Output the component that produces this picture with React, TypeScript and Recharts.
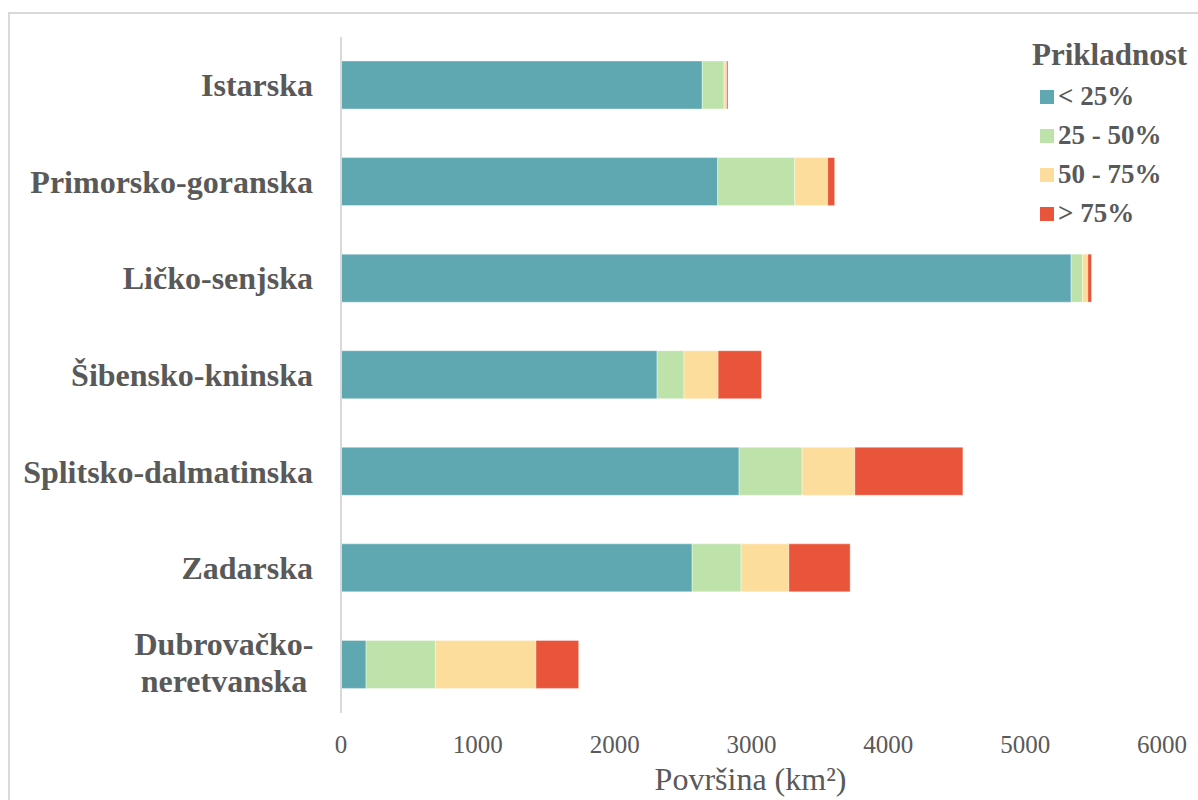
import React from 'react';
import { BarChart, Bar, XAxis, YAxis, Legend } from 'recharts';

const categories = [
  'Istarska',
  'Primorsko-goranska',
  'Ličko-senjska',
  'Šibensko-kninska',
  'Splitsko-dalmatinska',
  'Zadarska',
  'Dubrovačko-neretvanska',
];
const seriesNames = ['< 25%', '25 - 50%', '50 - 75%', '> 75%'];
const seriesColors = ['#5FA8B1', '#BEE3AA', '#FDDD9B', '#E9553A'];
const below25 = [2640, 2753, 5336, 2310, 2909, 2566, 183];
const from25to50 = [160, 563, 83, 197, 461, 358, 507];
const from50to75 = [18, 241, 39, 249, 385, 349, 735];
const above75 = [10, 51, 27, 317, 790, 448, 312];
const xTicks = [0, 1000, 2000, 3000, 4000, 5000, 6000];
const legendTitle = 'Prikladnost';
const xTitle = 'Površina (km²)';

const seriesValues = [below25, from25to50, from50to75, above75];
const data = categories.map((c, i) => ({
  name: c,
  s0: below25[i],
  s1: from25to50[i],
  s2: from50to75[i],
  s3: above75[i],
}));

const FONT = '"Liberation Serif", "Times New Roman", serif';
const TXT = '#595959';

const YTick = (props: any) => {
  const { x, y, payload } = props;
  const label: string = payload.value;
  if (label === 'Dubrovačko-neretvanska') {
    return (
      <g>
        <text x={x - 117} y={y - 10} textAnchor="middle" fontFamily={FONT} fontWeight="bold" fontSize={32} fill={TXT}>
          Dubrovačko-
        </text>
        <text x={x - 117} y={y + 27} textAnchor="middle" fontFamily={FONT} fontWeight="bold" fontSize={32} fill={TXT}>
          neretvanska
        </text>
      </g>
    );
  }
  return (
    <text x={x - 28} y={y + 11} textAnchor="end" fontFamily={FONT} fontWeight="bold" fontSize={32} fill={TXT}>
      {label}
    </text>
  );
};

const XTick = (props: any) => {
  const { x, y, payload } = props;
  return (
    <text x={x} y={y + 40} textAnchor="middle" fontFamily={FONT} fontSize={25} fill={TXT}>
      {payload.value}
    </text>
  );
};

const XTitle = (props: any) => {
  const vb = props.viewBox || {};
  const cx = vb.x + vb.width / 2;
  return (
    <text x={cx - 1} y={vb.y + 77} textAnchor="middle" fontFamily={FONT} fontSize={32} fill={TXT}>
      {xTitle}
    </text>
  );
};

const LegendContent = () => (
  <svg width={180} height={210} style={{ display: 'block' }}>
    <text x={12} y={35} fontFamily={FONT} fontWeight="bold" fontSize={31} fill={TXT}>
      {legendTitle}
    </text>
    {seriesNames.map((n, i) => (
      <g key={n}>
        <rect x={20} y={60 + i * 39} width={14} height={14} fill={seriesColors[i]} />
        <text x={38} y={75 + i * 39} fontFamily={FONT} fontWeight="bold" fontSize={27} fill={TXT}>
          {n}
        </text>
      </g>
    ))}
  </svg>
);

export default function App() {
  return (
    <div style={{ position: 'fixed', left: 0, top: 0, width: 1198, height: 800, background: '#fff', overflow: 'hidden' }}>
      <div
        style={{
          position: 'absolute',
          left: 8,
          top: 12,
          width: 1190,
          height: 788,
          borderTop: '2px solid #d9d9d9',
          borderLeft: '2px solid #d9d9d9',
        }}
      >
        <BarChart
          width={1188}
          height={786}
          data={data}
          layout="vertical"
          margin={{ top: 23, right: 36, left: 0, bottom: 0 }}
        >
          <XAxis
            type="number"
            domain={[0, 6000]}
            ticks={xTicks}
            axisLine={false}
            tickLine={false}
            tickSize={0}
            tickMargin={0}
            height={87}
            tick={<XTick />}
            label={<XTitle />}
            interval={0}
          />
          <YAxis
            type="category"
            dataKey="name"
            width={331}
            axisLine={{ stroke: '#d9d9d9', strokeWidth: 2 }}
            tickLine={false}
            tickSize={0}
            tickMargin={0}
            tick={<YTick />}
            interval={0}
          />
          <Legend
            layout="horizontal"
            verticalAlign="middle"
            align="center"
            wrapperStyle={{ left: 1010, top: 16, width: 180, height: 210 }}
            content={<LegendContent />}
          />
          {seriesValues.map((_, i) => (
            <Bar
              key={i}
              dataKey={'s' + i}
              name={seriesNames[i]}
              stackId="a"
              fill={seriesColors[i]}
              stroke="#ffffff"
              strokeOpacity={0.5}
              strokeWidth={0.75}
              barSize={48}
              isAnimationActive={false}
            />
          ))}
        </BarChart>
      </div>
    </div>
  );
}
